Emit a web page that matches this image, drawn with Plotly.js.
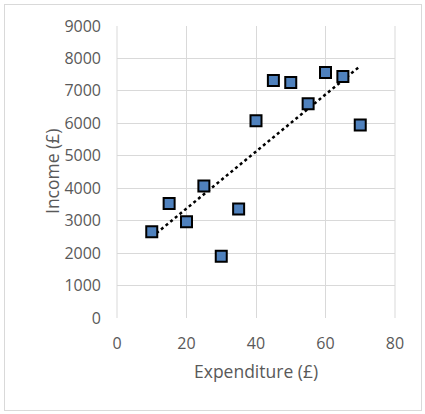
<!DOCTYPE html>
<html>
<head>
<meta charset="utf-8">
<script src="https://cdn.plot.ly/plotly-3.0.1.min.js"></script>
<style>
  html, body { margin:0; padding:0; background:#fff; }
  #frame { position:absolute; left:4px; top:4px; width:418px; height:407px; border:1.5px solid #d9d9d9; box-sizing:border-box; }
  #chart { position:absolute; left:0; top:0; width:425px; height:414px; }
</style>
</head>
<body>
<div id="frame"></div>
<div id="chart"></div>
<script>
const expenditure = [10, 15, 20, 25, 30, 35, 40, 45, 50, 55, 60, 65, 70];
const income = [2660, 3530, 2970, 4070, 1900, 3360, 6080, 7320, 7260, 6600, 7570, 7440, 5950];
const xTicks = [0, 20, 40, 60, 80];
const yTicks = [0, 1000, 2000, 3000, 4000, 5000, 6000, 7000, 8000, 9000];
const xTitle = 'Expenditure (£)';
const yTitle = 'Income (£)';

// linear trendline (least squares) from the data
const n = expenditure.length;
const mx = expenditure.reduce((a,b)=>a+b,0)/n;
const my = income.reduce((a,b)=>a+b,0)/n;
let sxy = 0, sxx = 0;
for (let i=0;i<n;i++){ sxy += (expenditure[i]-mx)*(income[i]-my); sxx += (expenditure[i]-mx)**2; }
const slope = sxy/sxx, icpt = my - slope*mx;
const tx = [Math.min(...expenditure), Math.max(...expenditure)];
const ty = tx.map(x => icpt + slope*x);

const font = "'Open Sans', 'Liberation Sans', sans-serif";
const traces = [
  { x: tx, y: ty, mode:'lines', line:{color:'#000', width:2.5, dash:'dot'}, hoverinfo:'skip', showlegend:false },
  { x: expenditure, y: income, mode:'markers', showlegend:false,
    marker:{symbol:'square', size:11, color:'#4f81bd', line:{color:'#000', width:2}} }
];
const layout = {
  width:425, height:414,
  margin:{l:117, r:30, t:26, b:96},
  paper_bgcolor:'rgba(0,0,0,0)', plot_bgcolor:'#fff',
  font:{family:font, color:'#595959', size:16},
  xaxis:{range:[0,80], tickvals:xTicks, ticktext:xTicks.map(String), showgrid:true, gridcolor:'#d9d9d9', gridwidth:1,
         zeroline:false, showline:false, ticks:'', ticklabelstandoff:14, tickfont:{size:16, color:'#595959'}},
  yaxis:{range:[0,9000], tickvals:yTicks, ticktext:yTicks.map(String), showgrid:true, gridcolor:'#d9d9d9', gridwidth:1,
         zeroline:false, showline:false, ticks:'', ticklabelstandoff:15, tickfont:{size:16, color:'#595959'}},
  annotations:[
    {text:xTitle, xref:'paper', yref:'paper', x:0.5, y:0, xanchor:'center', yanchor:'middle', yshift:-53,
     showarrow:false, font:{size:17.5, color:'#595959'}},
    {text:yTitle, xref:'paper', yref:'paper', x:0, y:0.5, xanchor:'center', yanchor:'middle', xshift:-65, textangle:-90,
     showarrow:false, font:{size:17.5, color:'#595959'}}
  ],
  shapes:[
    {type:'line', xref:'paper', yref:'paper', x0:1, x1:1, y0:0, y1:1, line:{color:'#d9d9d9', width:1}},
    {type:'line', xref:'paper', yref:'paper', x0:0, x1:0, y0:0, y1:1, line:{color:'#d9d9d9', width:1}}
  ],
  hovermode:false
};
Plotly.newPlot('chart', traces, layout, {displayModeBar:false, staticPlot:true});
</script>
</body>
</html>
